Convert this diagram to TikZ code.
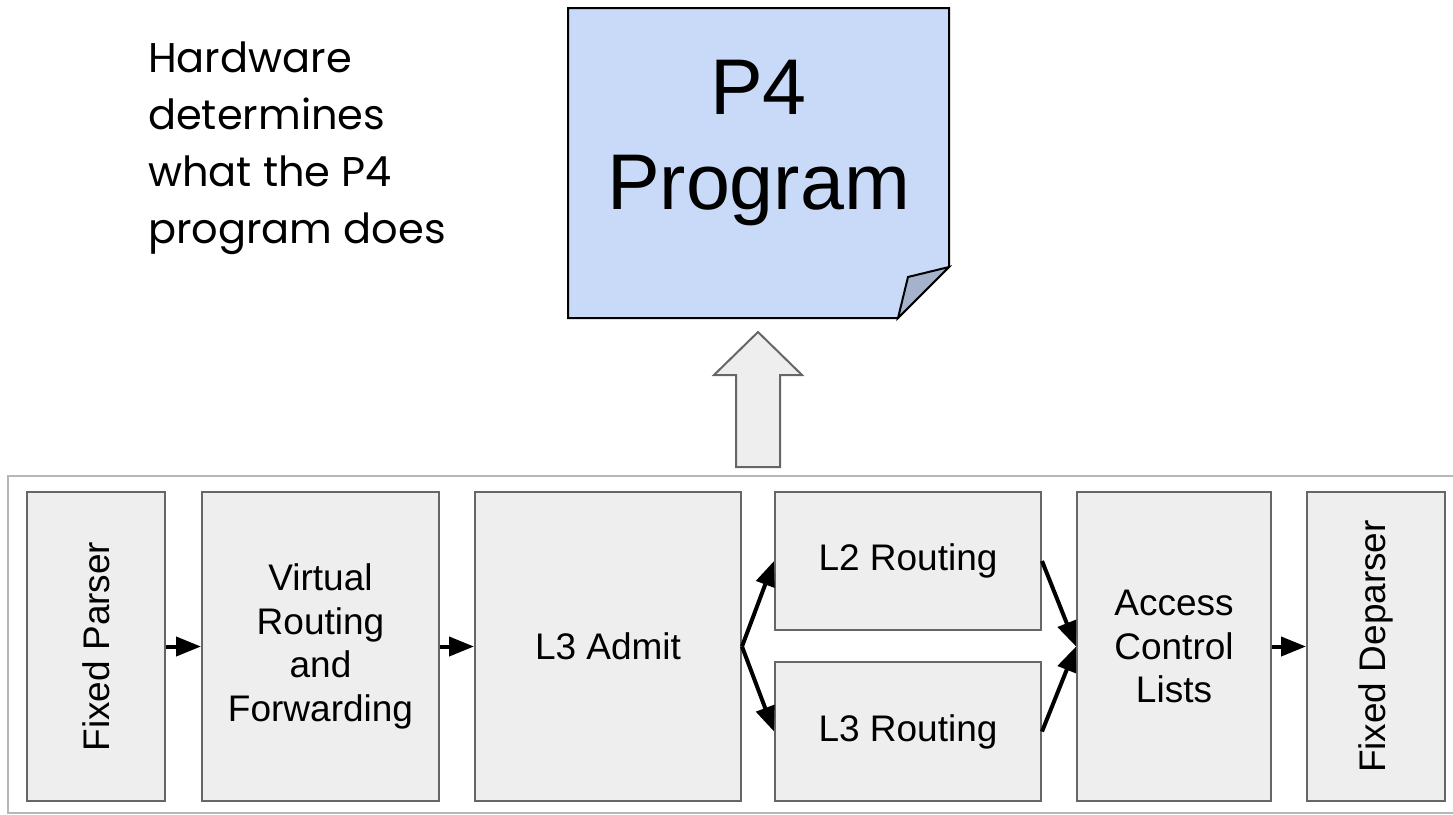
\documentclass[tikz,border=0pt]{standalone}
\usepackage{fontspec}
\setmainfont{Liberation Sans}
\newfontfamily\notefont{Poppins}
\usetikzlibrary{arrows.meta}

\definecolor{boxfill}{HTML}{EEEEEE}
\definecolor{boxline}{HTML}{666666}
\definecolor{frameline}{HTML}{B7B7B7}
\definecolor{notefill}{HTML}{C9DAF8}
\definecolor{foldfill}{HTML}{A4B3CB}

\begin{document}
\begin{tikzpicture}[x=1pt,y=-1pt,
  stage/.style={draw=boxline, line width=2pt, fill=boxfill, inner sep=0pt,
    align=center, font=\fontsize{37}{43.5}\selectfont},
  flow/.style={line width=4pt, -{Triangle[length=25pt,width=19pt]}, shorten >=0pt},
]
\useasboundingbox (0,0) rectangle (1453,814);

% pipeline frame (open on the right)
\draw[frameline, line width=2pt] (1460,476) -- (8,476) -- (8,813) -- (1460,813);

% pipeline stages
\node[stage, minimum width=138pt, minimum height=309pt] (parser) at (96,646.5)
  {\rotatebox{90}{Fixed Parser}};
\node[stage, minimum width=237pt, minimum height=309pt] (vrf) at (320.5,646.5)
  {Virtual\\Routing\\and\\Forwarding};
\node[stage, minimum width=266pt, minimum height=309pt] (admit) at (608,646.5)
  {L3 Admit};
\node[stage, minimum width=266pt, minimum height=138pt] (l2) at (908,561)
  {L2 Routing};
\node[stage, minimum width=266pt, minimum height=139pt] (l3) at (908,731.5)
  {L3 Routing};
\node[stage, minimum width=194pt, minimum height=309pt] (acl) at (1174,646.5)
  {Access\\Control\\Lists};
\node[stage, minimum width=138pt, minimum height=309pt] (deparser) at (1376,646.5)
  {\rotatebox{90}{Fixed Deparser}};

% connectors
\draw[flow] (parser.east) -- (vrf.west);
\draw[flow] (vrf.east) -- (admit.west);
\draw[flow] (admit.east) -- (l2.west);
\draw[flow] (admit.east) -- (l3.west);
\draw[flow] (l2.east) -- (acl.west);
\draw[flow] (l3.east) -- (acl.west);
\draw[flow] (acl.east) -- (deparser.west);

% block arrow up to the program
\draw[boxline, line width=2pt, fill=boxfill, line join=miter]
  (736,467) -- (736,375) -- (714,375) -- (758,332) -- (802,375)
  -- (780,375) -- (780,467) -- cycle;

% the P4 program sheet with a curled corner
\draw[black, line width=2pt, fill=notefill, line join=miter]
  (568,8) -- (949,8) -- (949,267) -- (898,318) -- (568,318) -- cycle;
\draw[black, line width=2pt, fill=foldfill, line join=miter]
  (898,318) -- (908,277) -- (949,267) -- cycle;
\node[align=center, inner sep=0pt, font=\fontsize{79}{95}\selectfont]
  (prog) at (758.5,143) {P4\\Program};

% caption
\node[anchor=north west, align=left, inner sep=0pt,
  font=\notefont\fontsize{41.5}{57}\selectfont] (caption) at (148,42)
  {Hardware\\determines\\what the P4\\program does};
\end{tikzpicture}
\end{document}
